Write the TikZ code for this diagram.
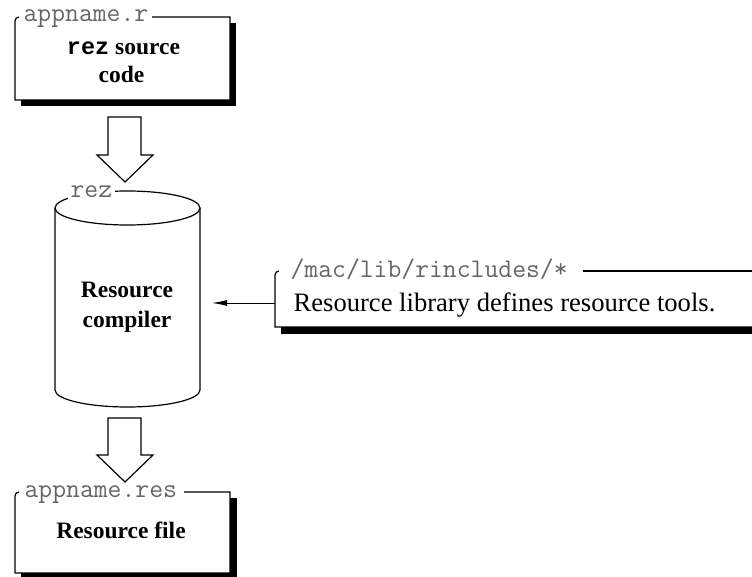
\documentclass[tikz,border=0pt]{standalone}
\usepackage{fontspec}
\setmainfont{Liberation Serif}
\newfontfamily\codebold{Liberation Mono}
\usetikzlibrary{arrows.meta}

\begin{document}
\begin{tikzpicture}[x=1pt, y=-1pt, line width=1.2pt,
  shadowband/.style={fill=black},
  tag/.style={font=\fontsize{26.9}{27}\selectfont\ttfamily, text=black!60,
    inner sep=0pt, anchor=base west},
  boldtext/.style={font=\fontsize{23.5}{28}\selectfont\bfseries, inner sep=0pt, anchor=base},
  plaintext/.style={font=\fontsize{26.6}{28}\selectfont, inner sep=0pt, anchor=base west},
  blockarrow/.style={draw=black, fill=white, line width=1.2pt, line join=miter}]

\useasboundingbox (0,0) rectangle (752,577);

% ---- source file box ----
\fill[shadowband] (21,23) rectangle (236,106);
\fill[white] (15,17) rectangle (230,100);
\draw (19,17) to[out=180,in=90] (15,21) -- (15,100) -- (230,100) -- (230,17) -- (152,17);
\node[tag] (srctag) at (23,22) {appname.r};
\node[boldtext] (srcA) at (123.5,55) {{\codebold\bfseries rez} source};
\node[boldtext] (srcB) at (121.5,83) {code};

% ---- block arrow into the compiler ----
\draw[blockarrow] (108,117) -- (141,117) -- (141,155) -- (153,155) -- (125,182)
  -- (97,155) -- (108,155) -- cycle;

% ---- resource compiler cylinder ----
\draw (55,208) -- (55,390)
  .. controls (55,399.39) and (87.46,407) .. (127.5,407)
  .. controls (167.54,407) and (200,399.39) .. (200,390) -- (200,208);
\draw (127.5,208) ellipse [x radius=72.5pt, y radius=17pt];
\node[tag, fill=white, inner xsep=3pt, inner ysep=2pt] (cyltag) at (67,198) {rez};
\node[boldtext] (compA) at (127,298) {Resource};
\node[boldtext] (compB) at (127,327) {compiler};

% ---- block arrow into the resource file ----
\draw[blockarrow] (108,418) -- (141,418) -- (141,455) -- (153,455) -- (125,482)
  -- (97,455) -- (108,455) -- cycle;

% ---- resource file box ----
\fill[shadowband] (21,498) rectangle (237,577);
\fill[white] (15,492) rectangle (230,573);
\draw (19,492) to[out=180,in=90] (15,496) -- (15,573) -- (230,573) -- (230,492) -- (184,492);
\node[tag] (restag) at (24,497) {appname.res};
\node[boldtext] (resA) at (121,538) {Resource file};

% ---- resource library box ----
\fill[shadowband] (281,277) rectangle (752,334);
\fill[white] (275,271) rectangle (752,327);
\draw (279,271) to[out=180,in=90] (275,275) -- (275,327) -- (752,327);
\draw (583,271) -- (752,271);
\node[tag] (libtag) at (290,277) {/mac/lib/rincludes/*};
\node[plaintext] (libtxt) at (293,312) {Resource library defines resource tools.};

% ---- library feeds the compiler ----
\coordinate (libport) at (275,303);
\coordinate (cylport) at (212,303);
\draw[line width=1pt, -{Latex[length=15pt,width=6pt]}] (libport) -- (cylport);
\end{tikzpicture}
\end{document}
